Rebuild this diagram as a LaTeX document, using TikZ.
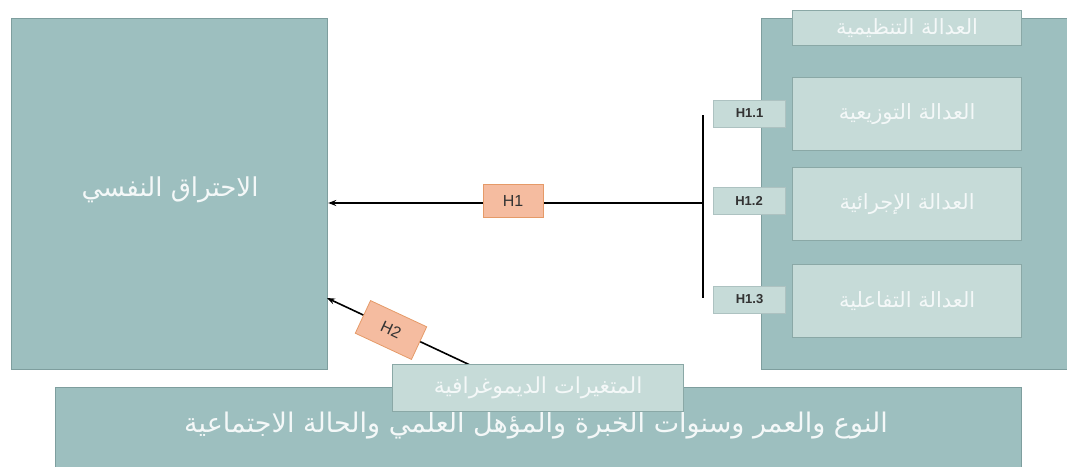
\documentclass[tikz,border=0pt]{standalone}
\usepackage{fontspec}
\setmainfont{Liberation Sans}
\newfontfamily\arabicfont[Script=Arabic]{DejaVu Sans}
\TeXXeTstate=1
\usetikzlibrary{arrows.meta}
\definecolor{boxfill}{HTML}{9DBFBF}
\definecolor{boxedge}{HTML}{7E9E9E}
\definecolor{lightfill}{HTML}{C6DBD8}
\definecolor{lightedge}{HTML}{8AA8A6}
\definecolor{hfill}{HTML}{F5BCA0}
\definecolor{hedge}{HTML}{E59A68}
\definecolor{txtwhite}{HTML}{F4F8F8}
\tikzset{
  bigbox/.style={draw=boxedge, line width=1.2pt, fill=boxfill},
  subbox/.style={draw=lightedge, line width=1.2pt, fill=lightfill},
  hlab/.style={draw=hedge, line width=0.8pt, fill=hfill, minimum width=60pt, minimum height=33pt, inner sep=0pt, font=\fontsize{16}{18}\selectfont, text=black!80},
  sublab/.style={draw=lightedge!70, line width=0.8pt, fill=lightfill, minimum width=72pt, minimum height=27pt, inner sep=0pt, font=\fontsize{13}{15}\selectfont\bfseries, text=black!80},
  artext/.style={text=txtwhite, font=\arabicfont\fontsize{#1}{#1}\selectfont},
  conn/.style={line width=1.6pt, black}
}
\begin{document}
\begin{tikzpicture}[x=1pt,y=-1pt]
\useasboundingbox (0,0) rectangle (1067,466);
% left box
\node[bigbox, minimum width=316pt, minimum height=351pt, anchor=north west] (burn) at (11,18) {};
\node[artext=26] at (170,190) {\beginR الاحتراق النفسي\endR};
% right box
\node[bigbox, minimum width=310pt, minimum height=351pt, anchor=north west] (org) at (761,18) {};
\node[subbox, minimum width=229pt, minimum height=35pt, anchor=north west] (orgt) at (792,10) {};
\node[artext=21] at (orgt.center) {\beginR العدالة التنظيمية\endR};
\node[subbox, minimum width=229pt, minimum height=73pt, anchor=north west] (dist) at (792,77) {};
\node[artext=21] at (dist.center) {\beginR العدالة التوزيعية\endR};
\node[subbox, minimum width=229pt, minimum height=73pt, anchor=north west] (proc) at (792,167) {};
\node[artext=21] at (proc.center) {\beginR العدالة الإجرائية\endR};
\node[subbox, minimum width=229pt, minimum height=73pt, anchor=north west] (inter) at (792,264) {};
\node[artext=21] at (inter.center) {\beginR العدالة التفاعلية\endR};
% bottom box
\node[bigbox, minimum width=966pt, minimum height=85pt, anchor=north west] (dem) at (55,387) {};
\node[artext=27] at (536,426) {\beginR النوع والعمر وسنوات الخبرة والمؤهل العلمي والحالة الاجتماعية\endR};
% vertical bar
\coordinate (bt) at (703,115);
\coordinate (bb) at (703,298);
\coordinate (bm) at (703,203);
\coordinate (h2s) at (470,365);
\coordinate (h2e) at (327,298);
\draw[line width=2.6pt] (bt) -- (bb);
% H1 arrow
\draw[conn, -{Stealth[length=8pt,width=6pt]}] (bm) -- (burn.east |- bm);
\node[hlab] (h1) at (513,201) {H1};
% H2 arrow
\draw[conn, -{Stealth[length=8pt,width=6pt]}] (h2s) -- (h2e);
\node[hlab, rotate=-25, minimum width=62pt, minimum height=36pt] (h2) at (391,330) {H2};
% demographic title box
\node[subbox, minimum width=291pt, minimum height=47pt, anchor=north west] (demt) at (392,364) {};
\node[artext=22] at (demt.center) {\beginR المتغيرات الديموغرافية\endR};
% sub labels
\node[sublab] (h11) at (749.5,113.5) {H1.1};
\node[sublab] (h12) at (749,200.5) {H1.2};
\node[sublab] (h13) at (749.5,299.5) {H1.3};
\end{tikzpicture}
\end{document}
